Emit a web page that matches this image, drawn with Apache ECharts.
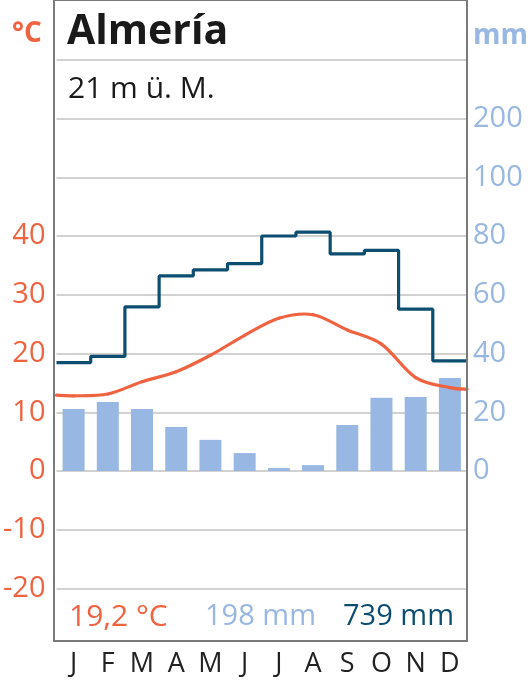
<!DOCTYPE html>
<html>
<head>
<meta charset="utf-8">
<script src="https://cdn.jsdelivr.net/npm/echarts@6/dist/echarts.min.js"></script>
<style>
  html, body { margin: 0; padding: 0; background: #fff; }
  #chart { width: 531px; height: 682px; }
</style>
</head>
<body>
<div id="chart"></div>
<script>
// Klimadiagramm Almería
var months = ['J', 'F', 'M', 'A', 'M', 'J', 'J', 'A', 'S', 'O', 'N', 'D'];
// Monatsmittel Temperatur (°C)
var temperature = [12.8, 13.1, 15.2, 16.9, 19.7, 23.1, 26.0, 26.6, 24.0, 21.6, 15.9, 14.2];
// Kurvenwert am linken / rechten Rand
var temperatureEdges = [12.9, 13.9];
// Niederschlag (mm)
var precipitation = [21.1, 23.5, 21.1, 15.0, 10.6, 6.1, 1.0, 2.0, 15.7, 24.9, 25.2, 31.7];
// Verdunstung (mm)
var evaporation = [36.9, 39.0, 55.9, 66.4, 68.5, 70.6, 80.0, 81.3, 73.9, 75.1, 55.1, 37.5];
// Achsenbeschriftung
var tempTicks = [-20, -10, 0, 10, 20, 30, 40];
var precipTicks = [0, 20, 40, 60, 80, 100];
var precipCompressedTick = 120;   // ab hier Massstab 1:10
var precipCompressedLabel = '200';
var title = 'Almería';
var subtitle = '21 m ü. M.';
var summary = ['19,2 °C', '198 mm', '739 mm'];

var ORANGE = '#ef6341';
var LIGHT = '#98b7e2';
var DARK = '#0d4e70';
var FONT = "'Open Sans', 'Noto Sans', sans-serif";

var chart = echarts.init(document.getElementById('chart'), null, { renderer: 'canvas' });

// Monatsmitte = i + 0.5 auf der Hilfsachse 0..12
var tempData = [[0, temperatureEdges[0]]];
temperature.forEach(function (t, i) { tempData.push([i + 0.5, t]); });
tempData.push([12, temperatureEdges[1]]);

var evapData = evaporation.map(function (v, i) { return [i, v]; });
evapData.push([12, evaporation[evaporation.length - 1]]);

// Temperaturkurve als Catmull-Rom-Spline durch die Monatswerte
function renderTempCurve(params, api) {
  var pts = tempData.map(function (d) { return api.coord(d); });
  var children = [];
  for (var i = 0; i < pts.length - 1; i++) {
    var p0 = pts[i - 1] || pts[i];
    var p1 = pts[i];
    var p2 = pts[i + 1];
    var p3 = pts[i + 2] || pts[i + 1];
    children.push({
      type: 'bezierCurve',
      shape: {
        x1: p1[0], y1: p1[1], x2: p2[0], y2: p2[1],
        cpx1: p1[0] + (p2[0] - p0[0]) / 6, cpy1: p1[1] + (p2[1] - p0[1]) / 6,
        cpx2: p2[0] - (p3[0] - p1[0]) / 6, cpy2: p2[1] - (p3[1] - p1[1]) / 6
      },
      style: { stroke: ORANGE, lineWidth: 3.2, fill: null, lineCap: 'round' }
    });
  }
  return { type: 'group', children: children };
}

var option = {
  animation: false,
  grid: [
    { left: 54, right: 64, top: 1, bottom: 34.75 },
    { left: 54, right: 64, top: -4, bottom: 41, show: true, borderColor: '#7a7a7a', borderWidth: 2, backgroundColor: 'transparent', z: 5 }
  ],
  xAxis: [
    {
      type: 'category', gridIndex: 0, data: months, boundaryGap: true,
      axisLine: { show: false }, axisTick: { show: false }, splitLine: { show: false },
      axisLabel: { color: '#222', fontSize: 27, fontFamily: FONT, margin: 4, interval: 0 }
    },
    { type: 'value', gridIndex: 0, min: 0, max: 12, show: false },
    { type: 'value', gridIndex: 1, show: false }
  ],
  yAxis: [
    {
      type: 'value', gridIndex: 0, min: -30, max: 80, interval: 10, position: 'left',
      axisLine: { show: false }, axisTick: { show: false },
      splitLine: { show: true, showMinLine: false, showMaxLine: false, lineStyle: { color: '#c2c2c2', width: 1.5 } },
      axisLabel: {
        color: ORANGE, fontSize: 29, fontFamily: FONT, margin: 11,
        formatter: function (v) { return tempTicks.indexOf(v) >= 0 ? String(v) : ''; }
      }
    },
    {
      type: 'value', gridIndex: 0, min: -60, max: 160, interval: 20, position: 'right',
      axisLine: { show: false }, axisTick: { show: false }, splitLine: { show: false },
      axisLabel: {
        color: LIGHT, fontSize: 29, fontFamily: FONT, margin: 6,
        formatter: function (v) {
          if (precipTicks.indexOf(v) >= 0) return String(v);
          if (v === precipCompressedTick) return precipCompressedLabel;
          return '';
        }
      }
    },
    { type: 'value', gridIndex: 1, show: false }
  ],
  series: [
    {
      name: 'Niederschlag', type: 'bar', xAxisIndex: 0, yAxisIndex: 1,
      data: precipitation, barWidth: 22, itemStyle: { color: LIGHT }, z: 2
    },
    {
      name: 'Verdunstung', type: 'line', xAxisIndex: 1, yAxisIndex: 1,
      data: evapData, step: 'end', showSymbol: false, clip: true,
      lineStyle: { color: DARK, width: 3.2 }, z: 3
    },
    {
      name: 'Temperatur', type: 'custom', xAxisIndex: 1, yAxisIndex: 0,
      data: [[0, 0]], renderItem: renderTempCurve, silent: true, z: 4
    }
  ],
  graphic: [
    { type: 'text', style: { text: '°C', x: 12, y: 34, textVerticalAlign: 'middle', font: 'bold 28px ' + FONT, fill: ORANGE } },
    { type: 'text', style: { text: 'mm', x: 473, y: 36, textVerticalAlign: 'middle', font: 'bold 28px ' + FONT, fill: LIGHT } },
    { type: 'text', style: { text: title, x: 67, y: 32, textVerticalAlign: 'middle', font: 'bold 41px ' + FONT, fill: '#1a1a1a' } },
    { type: 'text', style: { text: subtitle, x: 68, y: 89, textVerticalAlign: 'middle', font: '30px ' + FONT, fill: '#1a1a1a' } },
    { type: 'text', style: { text: summary[0], x: 69, y: 617, textVerticalAlign: 'middle', font: '30px ' + FONT, fill: ORANGE } },
    { type: 'text', style: { text: summary[1], x: 205, y: 617, textVerticalAlign: 'middle', font: '29px ' + FONT, fill: LIGHT } },
    { type: 'text', style: { text: summary[2], x: 343, y: 617, textVerticalAlign: 'middle', font: '29px ' + FONT, fill: DARK } }
  ]
};

chart.setOption(option);
</script>
</body>
</html>
